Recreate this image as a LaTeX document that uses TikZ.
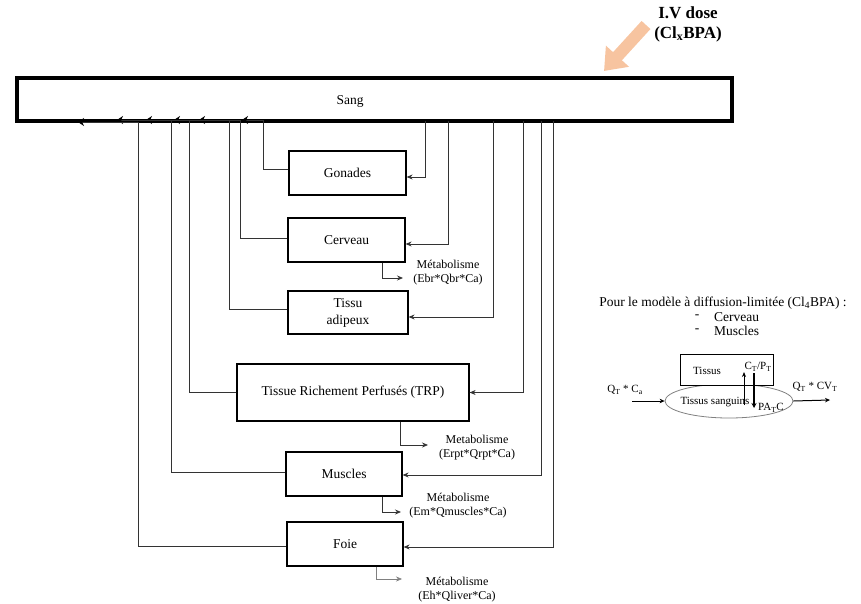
\documentclass[tikz,border=0pt]{standalone}
\usepackage{fontspec}
\setmainfont{Liberation Serif}
\usetikzlibrary{arrows.meta,calc,shapes.geometric}
\definecolor{peach}{HTML}{F7C4A0}
\definecolor{ln}{HTML}{333333}
\tikzset{
  organ/.style={draw=black, line width=1.2pt, inner sep=0pt, align=center,
    font=\fontsize{13.5}{17}\selectfont},
  conn/.style={draw=ln, line width=0.8pt},
  inarrow/.style={conn, -{Stealth[length=6pt,width=5pt]}},
  uparrow/.style={conn, -{Stealth[length=6pt,width=8pt,black]}},
  metab/.style={font=\fontsize{12}{14}\selectfont, align=center, inner sep=0pt},
  small/.style={font=\fontsize{11}{13}\selectfont, inner sep=0pt},
  info/.style={font=\fontsize{13.5}{15}\selectfont, inner sep=0pt}
}
\begin{document}
\begin{tikzpicture}[x=1pt,y=-1pt]
\useasboundingbox (0,0) rectangle (861,604);
% dose arrow and label
\draw[peach, line width=12pt, -{Triangle[length=20pt,width=30pt]}] (646,25) -- (604,71);
\node[font=\fontsize{17}{20}\selectfont\bfseries] (iv) at (688,13) {I.V dose};
\node[font=\fontsize{17}{20}\selectfont\bfseries] (cl) at (688,34) {(Cl\textsubscript{x}BPA)};
% organs
\node[organ, minimum width=117pt, minimum height=44pt] (gon) at (347.5,173) {Gonades};
\node[organ, minimum width=117pt, minimum height=44pt] (cer) at (346.5,240) {Cerveau};
\node[organ, minimum width=120pt, minimum height=43pt] (adi) at (348,312.5) {Tissu\\adipeux};
\node[organ, minimum width=232pt, minimum height=57pt] (trp) at (353,392.5) {Tissue Richement Perfusés (TRP)};
\node[organ, minimum width=116pt, minimum height=44pt] (mus) at (344,474) {Muscles};
\node[organ, minimum width=116pt, minimum height=44pt] (foi) at (345,544) {Foie};
% junction points on the blood box
\coordinate (lg) at (242,120); \coordinate (lc) at (199,120); \coordinate (la) at (174,120);
\coordinate (lt) at (146,120); \coordinate (lm) at (117,120); \coordinate (lf) at (78,122);
\coordinate (rg) at (425,121); \coordinate (rc) at (448,121); \coordinate (ra) at (493,121);
\coordinate (rt) at (523,121); \coordinate (rm) at (541,121); \coordinate (rf) at (553,121);
% blood box
\node[draw=black, line width=3.5pt, minimum width=715pt, minimum height=43pt, inner sep=0pt] (sang) at (374.5,99.5) {};
\node[font=\fontsize{13.5}{16}\selectfont] (sangt) at (350,101) {Sang};
% outflows (organ -> blood)
\draw[uparrow] ([yshift=4pt]gon.west) -| (263,120) -- (lg);
\draw[uparrow] ([yshift=2pt]cer.west) -| (240,120) -- (lc);
\draw[uparrow] ([yshift=3.5pt]adi.west) -| (229,120) -- (la);
\draw[uparrow] (trp.west) -| (189,120) -- (lt);
\draw[uparrow] ([yshift=2pt]mus.west) -| (171,120) -- (lm);
\draw[uparrow] ([yshift=-2pt]foi.west) -| (138,122) -- (lf);
% inflows (blood -> organ)
\draw[inarrow] (rg) |- ([yshift=-4pt]gon.east);
\draw[inarrow] (rc) |- ([yshift=-4pt]cer.east);
\draw[inarrow] (ra) |- ([yshift=-4.5pt]adi.east);
\draw[inarrow] (rt) |- (trp.east);
\draw[inarrow] (rm) |- ([yshift=-1pt]mus.east);
\draw[inarrow] (rf) |- ([yshift=-3pt]foi.east);
% metabolism
\coordinate (mc) at (403,278);
\coordinate (mt) at (428,445);
\coordinate (mm) at (401,512);
\coordinate (mf) at (402,579);
\draw[inarrow] ([xshift=35.5pt]cer.south) |- (mc);
\draw[inarrow] ([xshift=47pt]trp.south) |- (mt);
\draw[inarrow] ([xshift=38pt]mus.south) |- (mm);
\draw[inarrow, draw=gray, line width=0.6pt] ([xshift=31pt]foi.south) |- (mf);
\node[metab] (tc) at (448,273) {Métabolisme\\(Ebr*Qbr*Ca)};
\node[metab] (tt) at (477,448) {Metabolisme\\(Erpt*Qrpt*Ca)};
\node[metab] (tm) at (458,506) {Métabolisme\\(Em*Qmuscles*Ca)};
\node[metab] (tf) at (457,590) {Métabolisme\\(Eh*Qliver*Ca)};
% inset: diffusion-limited model
\node[info] (p1) at (723,303) {Pour le modèle à diffusion-limitée (Cl\textsubscript{4}BPA) :};
\node[info] (d1) at (697,317) {-};
\node[info, anchor=west] (w1) at (714,317) {Cerveau};
\node[info] (d2) at (697,331) {-};
\node[info, anchor=west] (w2) at (714,331) {Muscles};
\node[draw=gray, line width=0.8pt, ellipse, minimum width=128pt, minimum height=34pt, inner sep=0pt] (san) at (729,401) {};
\node[draw=black, line width=1pt, fill=white, minimum width=93pt, minimum height=31pt, inner sep=0pt] (tis) at (726.5,369.5) {};
\node[small] (tist) at (707,371) {Tissus};
\node[small] (ctp) at (758,367) {C\textsubscript{T}/P\textsubscript{T}};
\node[small] (sant) at (715,402) {Tissus sanguins};
\node[small] (pat) at (771,408) {PA\textsubscript{T}C};
\node[small] (qin) at (625,390) {Q\textsubscript{T} * C\textsubscript{a}};
\node[small] (qout) at (815,387) {Q\textsubscript{T} * CV\textsubscript{T}};
\coordinate (ain) at (632,401);
\coordinate (aout) at (830,400);
\draw[conn, black, line width=1pt, -{Stealth[length=5pt,width=4.5pt]}] (ain) -- (san.west);
\draw[conn, black, line width=1pt, -{Stealth[length=5pt,width=4.5pt]}] (san.east) -- (aout);
\coordinate (upb) at (744,405); \coordinate (dnb) at (754,408);
\draw[conn, black, -{Stealth[length=5pt,width=4pt]}] (upb) -- (744,372);
\draw[black, line width=1.6pt, -{Stealth[length=5pt,width=5pt]}] (754,373) -- (dnb);
\end{tikzpicture}
\end{document}
